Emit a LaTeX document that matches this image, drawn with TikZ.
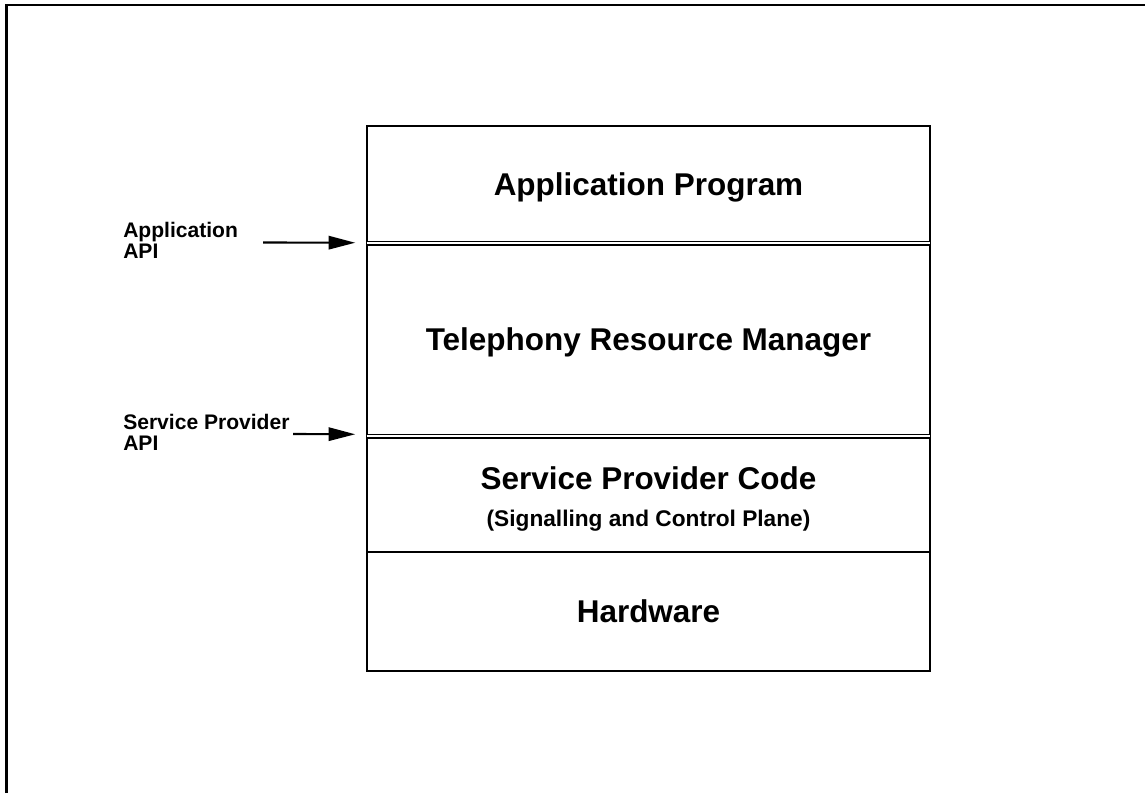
\documentclass[tikz,border=0pt]{standalone}
\usepackage{fontspec}
\setmainfont{Liberation Sans}
\usetikzlibrary{arrows.meta}
\begin{document}
\begin{tikzpicture}[x=0.75pt,y=-0.75pt,
  layer/.style={rectangle, inner sep=0pt, minimum width=422.25pt, text depth=0pt,
    font=\fontsize{23.6}{28}\selectfont\bfseries},
  maintext/.style={inner sep=0pt, anchor=base, font=\fontsize{23.6}{28}\selectfont\bfseries},
  subtext/.style={inner sep=0pt, anchor=base, font=\fontsize{17}{20}\selectfont\bfseries},
  apilabel/.style={anchor=north west, inner sep=0pt, align=left,
    font=\fontsize{15.8}{15.5}\selectfont\bfseries},
  apiarrow/.style={line width=1.6pt, -{Triangle[length=20pt,width=10pt]}},
  boxline/.style={line width=1.8pt},
  apiline/.style={line width=1.1pt, double, double distance=1.4pt},
  pageframe/.style={line width=2.2pt}]
\useasboundingbox (0,0) rectangle (1145,793);

% open frame along the top and left edges
\draw[pageframe] (6.3,793) -- (6.3,5) -- (1145,5);

% the four layers of the stack
\node[layer, minimum height=87.75pt]  (app) at (648.5,184.5) {Application Program};
\node[layer, minimum height=144.75pt] (trm) at (648.5,339.5) {Telephony Resource Manager};
\node[layer, minimum height=87pt]     (spc) at (648.5,494) {};
\node[layer, minimum height=89.25pt]  (hw)  at (648.5,611.5) {Hardware};
\node[maintext] (spctitle) at (648.5,489) {Service Provider Code};
\node[subtext]  (spcnote)  at (648.5,526) {(Signalling and Control Plane)};

% outline and separators
\draw[boxline] (app.north west) rectangle (hw.south east);
\draw[apiline] (app.south west) -- (app.south east);
\draw[apiline] (trm.south west) -- (trm.south east);
\draw[boxline] (spc.south west) -- (spc.south east);

% interface labels and arrows
\node[apilabel] (appapi) at (123,222) {Application\\API};
\node[apilabel] (spapi)  at (123,414) {Service Provider\\API};
\coordinate (appfrom) at (263,242.5);
\coordinate (spfrom)  at (293,434);
\draw[apiarrow] (appfrom) -- ([xshift=-8.6pt,yshift=0.4pt]app.south west);
\draw[apiarrow] (spfrom)  -- ([xshift=-8.6pt,yshift=1.5pt]trm.south west);
\end{tikzpicture}
\end{document}
